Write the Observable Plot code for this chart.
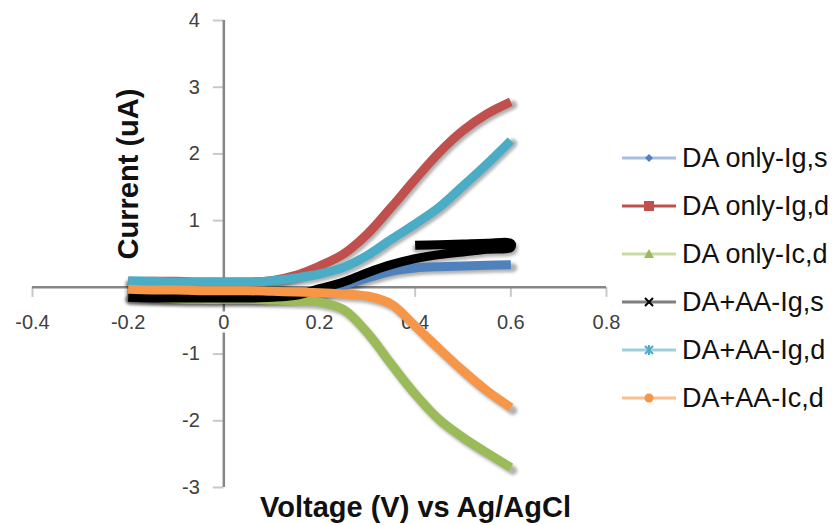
<!DOCTYPE html>
<html>
<head>
<meta charset="utf-8">
<script src="https://cdn.jsdelivr.net/npm/d3@7"></script>
<script src="https://cdn.jsdelivr.net/npm/@observablehq/plot@0.6"></script>
<style>
  html, body { margin: 0; padding: 0; background: #fff; }
  #chart { position: relative; width: 840px; height: 525px; font-family: "Liberation Sans", Arial, sans-serif; }
  #legend { position: absolute; left: 622px; top: 134px; }
  .row { display: flex; align-items: center; height: 48px; }
  .row span { font-size: 27px; color: #111; margin-left: 6px; white-space: nowrap; }
</style>
</head>
<body>
<div id="chart"><div id="legend"></div></div>
<script>
// ---- data ----
const voltage = [-0.2, -0.15, -0.1, -0.05, 0, 0.05, 0.1, 0.15, 0.2, 0.25, 0.3, 0.35, 0.4, 0.45, 0.5, 0.55, 0.6];
const daOnlyIgS = [-0.14, -0.15, -0.15, -0.15, -0.15, -0.15, -0.15, -0.14, -0.1, 0.03, 0.14, 0.24, 0.29, 0.31, 0.32, 0.33, 0.34];
const daOnlyIgD = [0.08, 0.09, 0.09, 0.08, 0.08, 0.08, 0.1, 0.18, 0.32, 0.5, 0.8, 1.2, 1.62, 2.02, 2.35, 2.6, 2.78];
const daOnlyIcD = [-0.12, -0.15, -0.17, -0.18, -0.18, -0.18, -0.19, -0.2, -0.22, -0.33, -0.68, -1.15, -1.6, -1.98, -2.25, -2.48, -2.7];
const blackVoltage = [-0.2, -0.15, -0.1, -0.05, 0, 0.05, 0.1, 0.15, 0.2, 0.25, 0.3, 0.35, 0.4, 0.45, 0.5, 0.55, 0.6, 0.6, 0.55, 0.5, 0.45, 0.4];
const daAaIgS = [-0.15, -0.16, -0.16, -0.16, -0.16, -0.16, -0.15, -0.12, -0.02, 0.08, 0.22, 0.34, 0.43, 0.49, 0.53, 0.57, 0.6, 0.66, 0.66, 0.65, 0.64, 0.63];
const daAaIgD = [0.1, 0.09, 0.08, 0.08, 0.08, 0.08, 0.1, 0.14, 0.2, 0.3, 0.48, 0.72, 0.95, 1.2, 1.52, 1.85, 2.2];
const daAaIcD = [-0.03, -0.04, -0.04, -0.05, -0.05, -0.05, -0.06, -0.07, -0.08, -0.1, -0.13, -0.25, -0.58, -0.92, -1.25, -1.55, -1.8];

const seriesNames = ["DA only-Ig,s", "DA only-Ig,d", "DA only-Ic,d", "DA+AA-Ig,s", "DA+AA-Ig,d", "DA+AA-Ic,d"];
const seriesColors = ["#4F81BD", "#C0504D", "#9BBB59", "#000000", "#4BACC6", "#F79646"];
const legendLineColors = ["#A7BFDE", "#C0504D", "#C9DAA5", "#7F7F7F", "#9FCFDD", "#FAC090"];
const seriesVoltages = [voltage, voltage, voltage, blackVoltage, voltage, voltage];
const seriesCurrents = [daOnlyIgS, daOnlyIgD, daOnlyIcD, daAaIgS, daAaIgD, daAaIcD];

const xTicks = [-0.4, -0.2, 0, 0.2, 0.4, 0.6, 0.8];
const xTickLabels = ["-0.4", "-0.2", "0", "0.2", "0.4", "0.6", "0.8"];
const yTicks = [4, 3, 2, 1, 0, -1, -2, -3];
const yTickLabels = ["4", "3", "2", "1", "0", "-1", "-2", "-3"];
const xTitle = "Voltage (V) vs Ag/AgCl";
const yTitle = "Current (uA)";

// ---- build table ----
const rows = [];
seriesNames.forEach((name, s) => {
  seriesVoltages[s].forEach((v, i) => rows.push({series: name, V: v, I: seriesCurrents[s][i]}));
});

const shadowMarks = seriesNames.map(name =>
  Plot.line(rows.filter(d => d.series === name), {x: "V", y: "I", curve: "catmull-rom", stroke: "#000", strokeOpacity: 0.3, strokeWidth: 9, dx: 2, dy: 3, strokeLinejoin: "round", strokeLinecap: "round"}));
const lineMarks = seriesNames.map((name, s) =>
  Plot.line(rows.filter(d => d.series === name), {x: "V", y: "I", curve: "catmull-rom", stroke: seriesColors[s], strokeWidth: 9, strokeLinejoin: "round", strokeLinecap: "butt"}));

const plot = Plot.plot({
  width: 840,
  height: 525,
  marginLeft: 32,
  marginRight: 234,
  marginTop: 20,
  marginBottom: 38,
  x: {domain: [-0.4, 0.8], axis: null},
  y: {domain: [-3, 4], axis: null},
  style: {fontFamily: "'Liberation Sans', Arial, sans-serif", background: "white"},
  marks: [
    Plot.text(yTicks, {x: 0, y: d => d, text: (d, i) => yTickLabels[i], dx: -24, textAnchor: "end", fontSize: 20, fill: "#404040"}),
    Plot.ruleX(xTicks, {x: d => d, y1: 0, y2: -0.15, stroke: "#c8c8c8", strokeWidth: 2}),
    Plot.ruleY(yTicks, {y: d => d, x1: -0.022, x2: 0, stroke: "#c8c8c8", strokeWidth: 2}),
    Plot.ruleY([0], {x1: -0.4, x2: 0.8, stroke: "#868686", strokeWidth: 2.5}),
    Plot.ruleX([0], {y1: -3, y2: 4, stroke: "#868686", strokeWidth: 2.5}),
    Plot.text(xTicks, {x: d => d, y: 0, text: (d, i) => xTickLabels[i], dy: 35, fontSize: 20, fill: "#404040", stroke: "white", strokeWidth: 7, paintOrder: "stroke"}),
    ...shadowMarks,
    ...lineMarks,
    Plot.text([xTitle], {frameAnchor: "bottom", text: d => d, dx: 96, dy: 20, lineAnchor: "middle", textAnchor: "middle", fontSize: 29, fontWeight: "bold", fill: "#111"}),
    Plot.text([yTitle], {frameAnchor: "left", text: d => d, dx: 96, dy: -80, rotate: -90, lineAnchor: "middle", textAnchor: "middle", fontSize: 29, fontWeight: "bold", fill: "#111"})
  ]
});
document.getElementById("chart").prepend(plot);

// soften shadows
const lineGroups = plot.querySelectorAll('g[aria-label="line"]');
lineGroups.forEach((g, i) => { if (i < seriesNames.length) g.style.filter = "blur(1.5px)"; });

// ---- legend ----
const markerSvg = [
  '<path d="M27,2 L31,6 L27,10 L23,6 Z" fill="#4F81BD"/>',
  '<rect x="22" y="1" width="10" height="10" fill="#C0504D"/>',
  '<path d="M27,1 L32,10 L22,10 Z" fill="#9BBB59"/>',
  '<path d="M23,2 L31,10 M31,2 L23,10" stroke="#000" stroke-width="2"/>',
  '<path d="M23,2 L31,10 M31,2 L23,10 M27,1 L27,11" stroke="#4BACC6" stroke-width="2"/>',
  '<circle cx="27" cy="6" r="4.5" fill="#F79646"/>'
];
const legend = document.getElementById("legend");
seriesNames.forEach((name, s) => {
  const row = document.createElement("div");
  row.className = "row";
  row.innerHTML = `<svg width="54" height="12"><line x1="0" y1="6" x2="54" y2="6" stroke="${legendLineColors[s]}" stroke-width="3"/>${markerSvg[s]}</svg><span>${name}</span>`;
  legend.appendChild(row);
});
</script>
</body>
</html>
